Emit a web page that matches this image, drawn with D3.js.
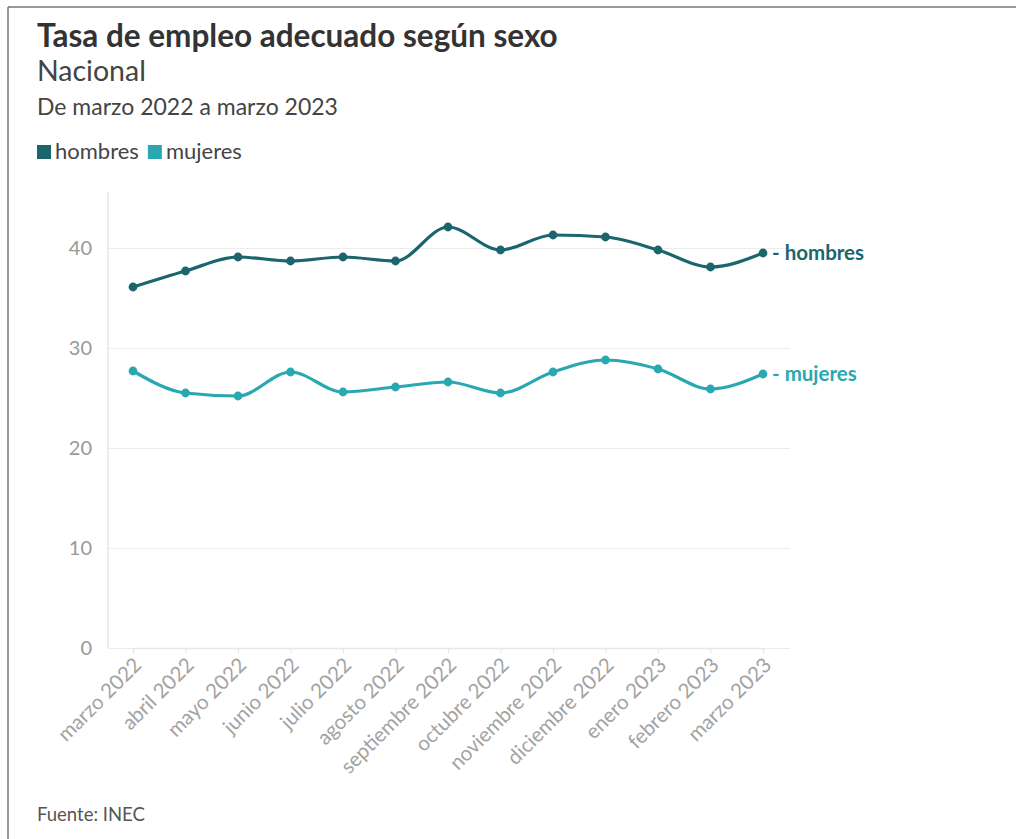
<!DOCTYPE html>
<html>
<head>
<meta charset="utf-8">
<script src="https://cdn.jsdelivr.net/npm/d3@7"></script>
<style>
  body { margin: 0; background: #fff; font-family: Lato, "Open Sans", sans-serif; }
  svg { display: block; }
</style>
</head>
<body>
<svg></svg>
<script>
const months = ["marzo 2022", "abril 2022", "mayo 2022", "junio 2022", "julio 2022", "agosto 2022",
  "septiembre 2022", "octubre 2022", "noviembre 2022", "diciembre 2022", "enero 2023", "febrero 2023", "marzo 2023"];
const hombres = [36.1, 37.7, 39.1, 38.7, 39.1, 38.7, 42.1, 39.8, 41.3, 41.1, 39.8, 38.1, 39.5];
const mujeres = [27.7, 25.5, 25.2, 27.6, 25.6, 26.1, 26.6, 25.5, 27.6, 28.8, 27.9, 25.9, 27.4];
const yTicks = [0, 10, 20, 30, 40];
const seriesNames = ["hombres", "mujeres"];
const colors = ["#1b656d", "#2aa8b2"];

const width = 1016, height = 839;
const svg = d3.select('svg').attr('width', width).attr('height', height);

// frame
svg.append('line').attr('x1', 8).attr('x2', 1016).attr('y1', 7).attr('y2', 7).attr('stroke', '#777').attr('stroke-width', 1.5);
svg.append('line').attr('x1', 8).attr('x2', 8).attr('y1', 7).attr('y2', height).attr('stroke', '#777').attr('stroke-width', 1.5);

// headings
svg.append('text').attr('x', 37).attr('y', 47).text('Tasa de empleo adecuado según sexo')
  .style('font-size', '31.5px').style('font-weight', 'bold').attr('fill', '#333');
svg.append('text').attr('x', 37).attr('y', 81).text('Nacional')
  .style('font-size', '28.5px').attr('fill', '#444');
svg.append('text').attr('x', 37).attr('y', 115).text('De marzo 2022 a marzo 2023')
  .style('font-size', '23px').attr('fill', '#444');

// legend
const legend = svg.append('g').attr('transform', 'translate(37,159)');
let lx = 0;
seriesNames.forEach((name, i) => {
  legend.append('rect').attr('x', lx).attr('y', -14).attr('width', 14).attr('height', 14).attr('fill', colors[i]);
  const t = legend.append('text').attr('x', lx + 18).attr('y', 0).text(name)
    .style('font-size', '22px').attr('fill', '#444');
  lx += 18 + t.node().getComputedTextLength() + 9;
});

// plot
const margin = { top: 195, left: 108, right: 226, bottom: 191 };
const innerWidth = width - margin.left - margin.right;
const innerHeight = height - margin.top - margin.bottom;
const g = svg.append('g').attr('transform', `translate(${margin.left},${margin.top})`);

const xScale = d3.scalePoint().domain(months).range([25, innerWidth - 27]);
const yScale = d3.scaleLinear().domain([0, 45.3]).range([innerHeight, 0]);

// y grid + labels
const yAxis = d3.axisLeft(yScale).tickValues(yTicks).tickSize(-innerWidth).tickPadding(16);
const gy = g.append('g').call(yAxis);
gy.select('.domain').remove();
gy.selectAll('.tick line').attr('stroke', '#ececec').attr('stroke-width', 1.2);
gy.selectAll('.tick text').attr('fill', '#999').style('font-size', '20px').style('font-family', 'Lato, sans-serif');

// vertical axis line
g.append('line').attr('x1', 0).attr('x2', 0).attr('y1', -3).attr('y2', innerHeight)
  .attr('stroke', '#e6e6e6').attr('stroke-width', 1.5);

// x axis
const xAxis = d3.axisBottom(xScale).tickSize(5).tickPadding(4);
const gx = g.append('g').attr('transform', `translate(0,${innerHeight})`).call(xAxis);
gx.select('.domain').attr('stroke', '#e6e6e6').attr('stroke-width', 1.5);
gx.selectAll('.tick line').attr('stroke', '#e6e6e6');
gx.selectAll('.tick text')
  .attr('fill', '#a3a3a3').style('font-size', '20.5px').style('font-family', 'Lato, sans-serif')
  .attr('text-anchor', 'end')
  .attr('transform', 'translate(-8,1) rotate(-45)')
  .attr('dy', '0.75em');

// lines
const data = [hombres, mujeres];
const line = d3.line()
  .x((d, i) => xScale(months[i]))
  .y(d => yScale(d))
  .curve(d3.curveMonotoneX);

data.forEach((vals, s) => {
  g.append('path').datum(vals).attr('d', line)
    .attr('fill', 'none').attr('stroke', colors[s]).attr('stroke-width', 3.2);
  g.selectAll(null).data(vals).enter().append('circle')
    .attr('cx', (d, i) => xScale(months[i]))
    .attr('cy', d => yScale(d))
    .attr('r', 4.4)
    .attr('fill', colors[s]);
  const last = vals[vals.length - 1];
  g.append('text')
    .attr('x', xScale(months[months.length - 1]) + 9)
    .attr('y', yScale(last))
    .attr('dy', '0.35em')
    .text('- ' + seriesNames[s])
    .style('font-size', '20.5px').style('font-weight', 'bold')
    .attr('fill', colors[s]);
});

// source
svg.append('text').attr('x', 37).attr('y', 821).text('Fuente: INEC')
  .style('font-size', '18.5px').attr('fill', '#555');
</script>
</body>
</html>
